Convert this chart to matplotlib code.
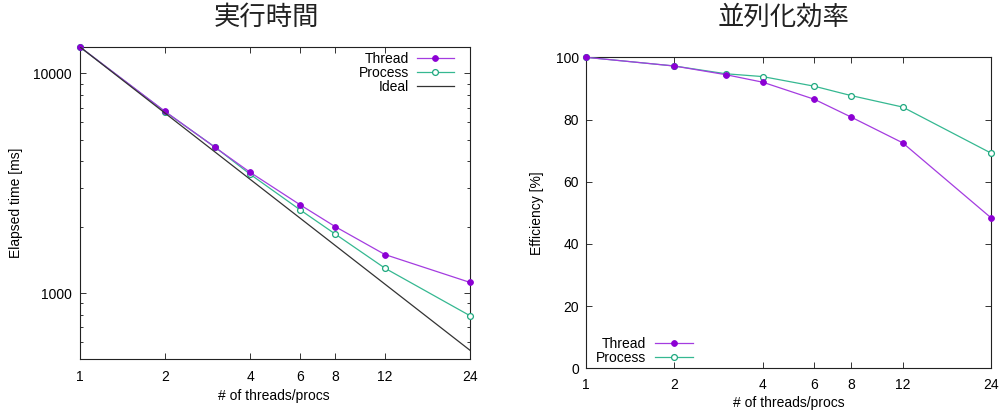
import matplotlib
matplotlib.use("Agg")
import matplotlib.pyplot as plt
from matplotlib.ticker import FixedLocator, FixedFormatter, LogLocator, NullLocator, NullFormatter

# Benchmark results
threads = [1, 2, 3, 4, 6, 8, 12, 24]
xtick_values = [1, 2, 4, 6, 8, 12, 24]
xtick_labels = ["1", "2", "4", "6", "8", "12", "24"]

thread_time = [13200, 6720, 4620, 3550, 2530, 2010, 1500, 1120]
process_time = [13200, 6700, 4630, 3480, 2400, 1860, 1300, 790]
ideal_threads = [1, 24]
ideal_time = [13200, 550]

thread_eff = [100, 97.2, 94.4, 92.0, 86.5, 80.8, 72.5, 48.4]
process_eff = [100, 97.2, 94.7, 93.8, 90.7, 87.7, 84.0, 69.2]
eff_ticks = [0, 20, 40, 60, 80, 100]

titles = ["実行時間", "並列化効率"]

plt.rcParams["font.family"] = ["Liberation Sans", "DejaVu Sans"]
plt.rcParams["font.size"] = 10

TH_LINE = "#a43ce0"
TH_MARK = "#8c00d4"
PR_LINE = "#35b891"
PR_MARK = "#1fa87f"

W, H = 1004, 413
fig = plt.figure(figsize=(W / 100, H / 100), dpi=100)


def ax_rect(x0, x1, y0, y1):
    return [x0 / W, 1 - y1 / H, (x1 - x0) / W, (y1 - y0) / H]


def style_axes(ax):
    for s in ax.spines.values():
        s.set_color("#222222")
        s.set_linewidth(0.8)
    ax.tick_params(which="both", direction="in", top=True, right=True,
                   color="#333333", width=0.7)
    ax.tick_params(which="major", length=4.0)
    ax.tick_params(which="minor", length=2.4)


def thread_kw():
    return dict(color=TH_LINE, lw=0.9, marker="o", ms=4.2,
                mfc=TH_MARK, mec=TH_MARK, mew=0.6, clip_on=False)


def process_kw():
    return dict(color=PR_LINE, lw=0.9, marker="o", ms=4.2,
                mfc="white", mec=PR_MARK, mew=0.9, clip_on=False)


# Left: elapsed time (log-log)
ax1 = fig.add_axes(ax_rect(80, 470, 47, 359))
ax1.set_xscale("log")
ax1.set_yscale("log")
ax1.plot(threads, process_time, label="Process", zorder=3, **process_kw())
ax1.plot(threads, thread_time, label="Thread", zorder=4, **thread_kw())
ax1.plot(ideal_threads, ideal_time, color="#333333", lw=0.9, label="Ideal", zorder=5)
ax1.set_xlim(1, 24)
ax1.set_ylim(502, 13200)
ax1.xaxis.set_major_locator(FixedLocator(xtick_values))
ax1.xaxis.set_major_formatter(FixedFormatter(xtick_labels))
ax1.xaxis.set_minor_locator(NullLocator())
ax1.yaxis.set_major_locator(FixedLocator([1000, 10000]))
ax1.yaxis.set_major_formatter(FixedFormatter(["1000", "10000"]))
ax1.yaxis.set_minor_locator(LogLocator(base=10, subs=range(2, 10)))
ax1.yaxis.set_minor_formatter(NullFormatter())
style_axes(ax1)
ax1.tick_params(axis="y", pad=6)
ax1.tick_params(axis="x", pad=8)
h1, l1 = ax1.get_legend_handles_labels()
order1 = [l1.index(n) for n in ["Thread", "Process", "Ideal"]]
ax1.legend([h1[i] for i in order1], [l1[i] for i in order1],
           loc="upper right", bbox_to_anchor=(0.959, 0.985),
           markerfirst=False, frameon=False, borderpad=0,
           borderaxespad=0, handlelength=2.7, handletextpad=0.55,
           labelspacing=0.0, fontsize=10)

# Right: parallel efficiency
ax2 = fig.add_axes(ax_rect(586, 991, 57.3, 368.3))
ax2.set_xscale("log")
ax2.plot(threads, process_eff, label="Process", zorder=3, **process_kw())
ax2.plot(threads, thread_eff, label="Thread", zorder=4, **thread_kw())
ax2.set_xlim(1, 24)
ax2.set_ylim(0, 100)
ax2.xaxis.set_major_locator(FixedLocator(xtick_values))
ax2.xaxis.set_major_formatter(FixedFormatter(xtick_labels))
ax2.xaxis.set_minor_locator(NullLocator())
ax2.yaxis.set_major_locator(FixedLocator(eff_ticks))
ax2.yaxis.set_major_formatter(FixedFormatter([str(v) for v in eff_ticks]))
style_axes(ax2)
ax2.tick_params(axis="y", pad=5)
ax2.tick_params(axis="x", pad=7)
h2, l2 = ax2.get_legend_handles_labels()
order2 = [l2.index(n) for n in ["Thread", "Process"]]
ax2.legend([h2[i] for i in order2], [l2[i] for i in order2],
           loc="lower right", bbox_to_anchor=(0.264, 0.012),
           markerfirst=False, frameon=False, borderpad=0,
           borderaxespad=0, handlelength=2.7, handletextpad=0.65,
           labelspacing=0.0, fontsize=10)

# Axis labels
fig.text(16 / W, 1 - 203 / H, "Elapsed time [ms]", rotation=90,
         ha="center", va="center", fontsize=10)
fig.text(274 / W, 1 - 396 / H, "# of threads/procs", ha="center",
         va="center", fontsize=10)
fig.text(537 / W, 1 - 213 / H, "Efficiency [%]", rotation=90,
         ha="center", va="center", fontsize=10)
fig.text(789 / W, 1 - 403 / H, "# of threads/procs", ha="center",
         va="center", fontsize=10)

# Titles
cjk = ["Noto Sans CJK JP", "DejaVu Sans"]
fig.text(266 / W, 1 - 17 / H, titles[0], ha="center", va="center",
         fontsize=19, family=cjk, color="#222222")
fig.text(784 / W, 1 - 17 / H, titles[1], ha="center", va="center",
         fontsize=19, family=cjk, color="#222222")

fig.savefig("out.png", dpi=100, facecolor="white")
